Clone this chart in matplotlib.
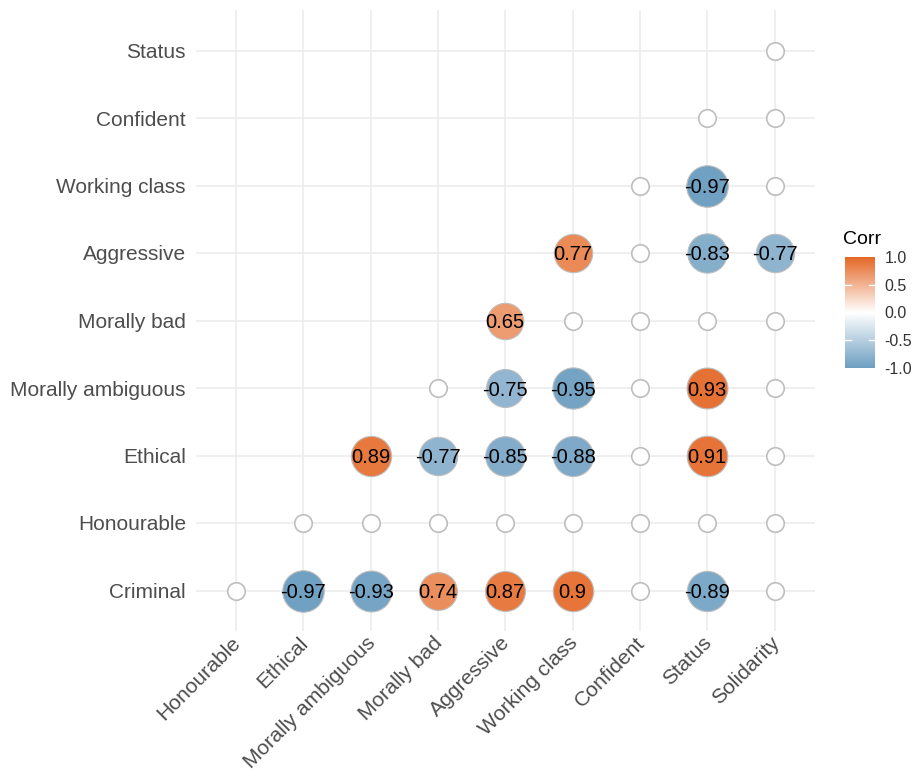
import numpy as np
import matplotlib
matplotlib.use("Agg")
import matplotlib.pyplot as plt
import matplotlib.transforms as mtransforms
from matplotlib.colors import LinearSegmentedColormap, Normalize
from matplotlib.cm import ScalarMappable

plt.rcParams['font.family'] = ['Liberation Sans', 'DejaVu Sans']

x_labels = ["Honourable", "Ethical", "Morally ambiguous", "Morally bad", "Aggressive",
            "Working class", "Confident", "Status", "Solidarity"]
y_labels = ["Criminal", "Honourable", "Ethical", "Morally ambiguous", "Morally bad",
            "Aggressive", "Working class", "Confident", "Status"]

nan = np.nan
# Each row: values for columns starting at index == row index (lower triangle); nan = not significant
row_criminal = [nan, -0.97, -0.93, 0.74, 0.87, 0.90, nan, -0.89, nan]
row_honourable = [nan, nan, nan, nan, nan, nan, nan, nan]
row_ethical = [0.89, -0.77, -0.85, -0.88, nan, 0.91, nan]
row_morally_ambiguous = [nan, -0.75, -0.95, nan, 0.93, nan]
row_morally_bad = [0.65, nan, nan, nan, nan]
row_aggressive = [0.77, nan, -0.83, -0.77]
row_working_class = [nan, -0.97, nan]
row_confident = [nan, nan]
row_status = [nan]

rows = [row_criminal, row_honourable, row_ethical, row_morally_ambiguous, row_morally_bad,
        row_aggressive, row_working_class, row_confident, row_status]

low, mid, high = "#6D9EC1", "#FFFFFF", "#E46726"
cmap = LinearSegmentedColormap.from_list("corr", [low, mid, high])
norm = Normalize(-1, 1)

fig = plt.figure(figsize=(9.13, 7.76), dpi=100)
ax = fig.add_axes([195.6/913, 1-631/776, (815-195.6)/913, (631-10)/776])

ax.set_xlim(-0.6, 8.6)
ax.set_ylim(-0.6, 8.6)
ax.set_xticks(range(9))
ax.set_yticks(range(9))
ax.set_xticklabels(x_labels, rotation=45, ha='right', va='top', rotation_mode='anchor',
                   fontsize=15.2, color='#4D4D4D')
ax.set_yticklabels(y_labels, fontsize=15, color='#4D4D4D')
ax.tick_params(length=0, pad=7)
ax.tick_params(axis='x', pad=3)
offset = mtransforms.ScaledTranslation(-5/100, 2/100, fig.dpi_scale_trans)
for lbl in ax.get_xticklabels():
    lbl.set_transform(lbl.get_transform() + offset)
for s in ax.spines.values():
    s.set_visible(False)
ax.grid(True, color='#EBEBEB', linewidth=1.1)
ax.set_axisbelow(True)

px2pt = 72 / 100
for i, row in enumerate(rows):
    for k, v in enumerate(row):
        j = i + k
        if np.isnan(v):
            d = 17.5 * px2pt
            ax.scatter([j], [i], s=d**2, facecolor='white', edgecolor='#BEBEBE',
                       linewidth=1.2, zorder=3)
        else:
            d = (26 + 16 * abs(v)) * px2pt
            ax.scatter([j], [i], s=d**2, facecolor=cmap(norm(v)), edgecolor='#BEBEBE',
                       linewidth=0.8, zorder=3)
            lab = f"{v:.2f}".rstrip('0') if abs(v * 10 - round(v * 10)) < 1e-9 else f"{v:.2f}"
            ax.text(j, i, lab, ha='center', va='center_baseline', fontsize=14.5,
                    color='black', zorder=4)

# colorbar
cax = fig.add_axes([845/913, 1-368/776, 30/913, 111/776])
sm = ScalarMappable(norm=norm, cmap=cmap)
cb = fig.colorbar(sm, cax=cax, ticks=[-1, -0.5, 0, 0.5, 1])
cb.outline.set_visible(False)
cb.ax.set_yticklabels(["-1.0", "-0.5", "0.0", "0.5", "1.0"])
cb.ax.tick_params(length=0, pad=7, labelsize=11.5, colors='#333333')
for t in [-0.5, 0, 0.5]:
    cax.plot([0, 0.2], [t, t], color='white', lw=1, transform=cax.get_yaxis_transform())
    cax.plot([0.8, 1.0], [t, t], color='white', lw=1, transform=cax.get_yaxis_transform())
fig.text(843/913, 1-240/776, "Corr", ha='left', va='center', fontsize=14, color='black')

fig.savefig("out.png", dpi=100, facecolor='white')
